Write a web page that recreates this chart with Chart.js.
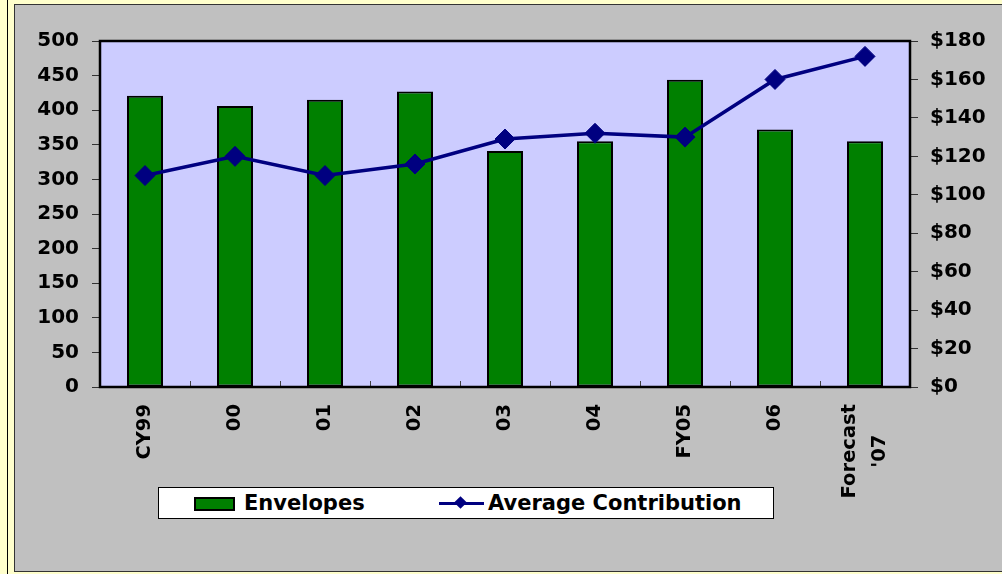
<!DOCTYPE html>
<html>
<head>
<meta charset="utf-8">
<script src="https://cdn.jsdelivr.net/npm/chart.js@4"></script>
<style>
  html, body { margin: 0; padding: 0; background: #FFFFCC; overflow: hidden; }
  #page { position: relative; width: 1002px; height: 574px; }
  #rule { position: absolute; left: 7px; top: 0; width: 1px; height: 574px; background: #000; }
  #frame { position: absolute; left: 14px; top: 4px; width: 990px; height: 568px; box-sizing: border-box;
           border: 1px solid #333; background: #C0C0C0; }
  #chart { position: absolute; left: 0; top: 0; }
  #legend { position: absolute; left: 143px; top: 482px; width: 616px; height: 32px; box-sizing: border-box;
            border: 1px solid #000; background: #fff; font: bold 21px "DejaVu Sans", sans-serif; color: #000; }
  #legend span { position: absolute; }
  .txt { top: 0; line-height: 30px; white-space: nowrap; }
  .swatch { left: 35px; top: 9px; width: 41px; height: 14px; box-sizing: border-box; border: 2px solid #000; background: #008000; }
  .ln { left: 280px; top: 14px; width: 45px; height: 3px; background: #000080; }
  .dia { left: 297px; top: 10px; width: 9px; height: 9px; background: #000080; transform: rotate(45deg); }
</style>
</head>
<body>
<div id="page">
  <div id="rule"></div>
  <div id="frame">
    <canvas id="chart" width="988" height="566"></canvas>
    <div id="legend">
      <span class="swatch"></span><span class="txt" style="left:85px">Envelopes</span>
      <span class="ln"></span><span class="dia"></span><span class="txt" style="left:329px">Average Contribution</span>
    </div>
  </div>
</div>
<script>
const categorias = ['CY99', '00', '01', '02', '03', '04', 'FY05', '06', ['Forecast', "'07"]];
const envelopes = [421, 406, 415, 427, 341, 355, 444, 372, 355];
const contribuicaoMedia = [110, 120, 110, 116, 129, 132, 130, 160, 172];
const ticksEsquerda = { min: 0, max: 500, step: 50 };
const ticksDireita = { min: 0, max: 180, step: 20 };

const fonteEixo = { family: '"DejaVu Sans", sans-serif', size: 20, weight: 'bold' };

// fundo lilas + moldura preta da area do grafico
const fundoPlot = {
    id: 'fundoPlot',
    beforeDraw(chart) {
        const { ctx, chartArea: a } = chart;
        ctx.save();
        ctx.fillStyle = '#CCCCFF';
        ctx.fillRect(a.left, a.top, a.right - a.left, a.bottom - a.top);
        ctx.restore();
    },
    afterDatasetsDraw(chart) {
        const { ctx, chartArea: a } = chart;
        const x = chart.scales.x;
        ctx.save();
        ctx.strokeStyle = '#444';
        ctx.lineWidth = 1;
        for (let i = 1; i < categorias.length; i++) {
            const px = Math.round((x.getPixelForTick(i - 1) + x.getPixelForTick(i)) / 2) + 0.5;
            ctx.beginPath();
            ctx.moveTo(px, a.bottom);
            ctx.lineTo(px, a.bottom - 6);
            ctx.stroke();
        }
        ctx.strokeStyle = '#000';
        ctx.lineWidth = 2.5;
        ctx.strokeRect(a.left, a.top, a.right - a.left, a.bottom - a.top);
        ctx.restore();
    },
    afterDraw(chart) {
        // rotulos do eixo x girados, linhas centralizadas como no Excel
        const { ctx, chartArea: a } = chart;
        const x = chart.scales.x;
        ctx.save();
        ctx.font = 'bold 19.5px "DejaVu Sans", sans-serif';
        ctx.fillStyle = '#000';
        ctx.textAlign = 'center';
        ctx.textBaseline = 'middle';
        categorias.forEach((lab, i) => {
            const linhas = Array.isArray(lab) ? lab : [lab];
            const w = Math.max(...linhas.map(l => ctx.measureText(l).width));
            ctx.save();
            ctx.translate(x.getPixelForTick(i), a.bottom + 17);
            ctx.rotate(-Math.PI / 2);
            linhas.forEach((l, j) => ctx.fillText(l, -w / 2, (j - (linhas.length - 1) / 2) * 30));
            ctx.restore();
        });
        ctx.restore();
    }
};

new Chart(document.getElementById('chart'), {
    data: {
        labels: categorias,
        datasets: [
            {
                type: 'line',
                label: 'Average Contribution',
                data: contribuicaoMedia,
                yAxisID: 'y1',
                borderColor: '#000080',
                borderWidth: 3.5,
                pointStyle: 'rectRot',
                pointRadius: 10,
                pointBackgroundColor: '#000080',
                pointBorderColor: '#000080',
                pointBorderWidth: 1,
                tension: 0,
                fill: false,
                order: 1
            },
            {
                type: 'bar',
                label: 'Envelopes',
                data: envelopes,
                yAxisID: 'y',
                backgroundColor: '#008000',
                borderColor: '#000',
                borderWidth: 2,
                borderSkipped: false,
                barPercentage: 0.4,
                categoryPercentage: 1.0,
                order: 2
            }
        ]
    },
    options: {
        responsive: false,
        animation: false,
        devicePixelRatio: 1,
        layout: { padding: { top: 36, left: 0, right: 0, bottom: 0 } },
        plugins: { legend: { display: false }, tooltip: { enabled: false } },
        scales: {
            x: {
                grid: { display: false },
                border: { display: false },
                ticks: { display: false },
                afterFit: s => { s.height = 184; }
            },
            y: {
                position: 'left',
                min: ticksEsquerda.min,
                max: ticksEsquerda.max,
                ticks: { stepSize: ticksEsquerda.step, color: '#000', font: fonteEixo, padding: 13 },
                grid: { drawOnChartArea: false, drawTicks: true, tickLength: 8, color: '#333' },
                border: { display: false },
                afterFit: s => { s.width = 85; }
            },
            y1: {
                position: 'right',
                min: ticksDireita.min,
                max: ticksDireita.max,
                ticks: { stepSize: ticksDireita.step, color: '#000', font: fonteEixo, padding: 12,
                         callback: v => '$' + v },
                grid: { drawOnChartArea: false, drawTicks: true, tickLength: 8, color: '#333' },
                border: { display: false },
                afterFit: s => { s.width = 93; }
            }
        }
    },
    plugins: [fundoPlot]
});
</script>
</body>
</html>
